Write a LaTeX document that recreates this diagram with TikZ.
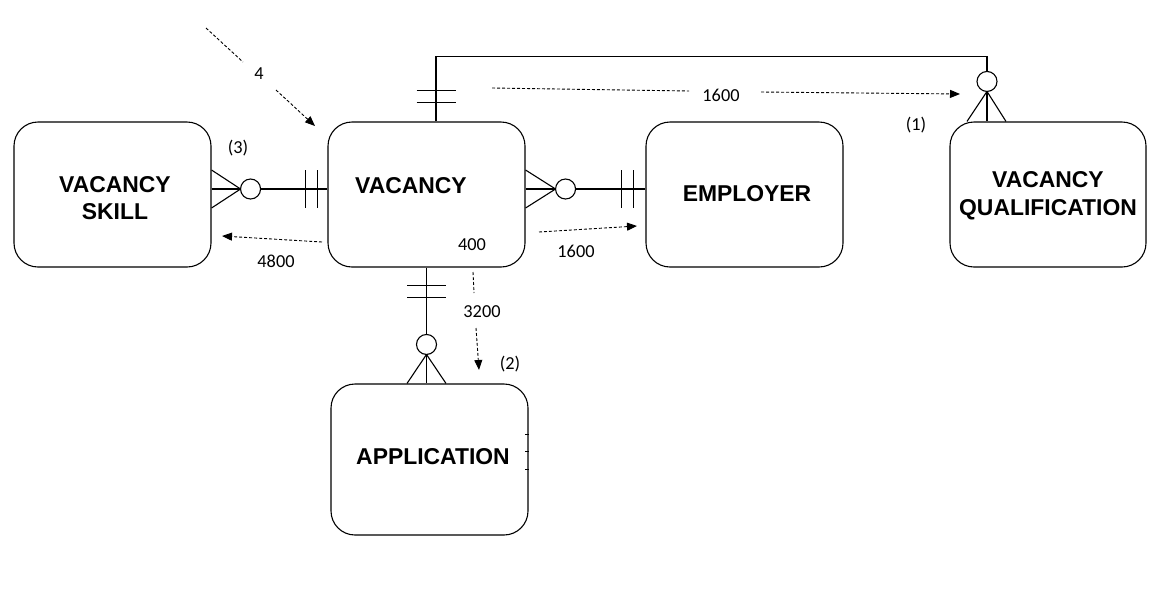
\documentclass[tikz,border=0pt]{standalone}
\usepackage{fontspec}
\setmainfont{Liberation Sans}
\newfontfamily\numfont{Carlito}
\usetikzlibrary{calc,arrows.meta}
\begin{document}
\begin{tikzpicture}[x=1pt,y=-1pt,
  entity/.style={draw, line width=1.1pt, rounded corners=24pt, minimum width=197pt, minimum height=145pt, inner sep=0pt},
  lbl/.style={font=\fontsize{22.9}{27.5}\selectfont\bfseries, align=center, inner sep=0pt},
  num/.style={font=\numfont\fontsize{18.3}{20}\selectfont, inner sep=0pt},
  rel/.style={line width=1.1pt},
  circ/.style={line width=1.1pt, fill=white},
  flowseg/.style={dash pattern=on 3pt off 2pt, line width=0.9pt},
  flow/.style={flowseg, -{Triangle[length=10pt,width=8pt]}}
]
\useasboundingbox (0,0) rectangle (1172,590);

% entities
\node[entity] (skill) at (112.5,194.5) {};
\node[entity] (vac)   at (426.5,194.5) {};
\node[entity] (emp)   at (744.5,194.5) {};
\node[entity, minimum width=196pt] (qual) at (1048,194.5) {};
\node[entity, minimum height=151pt] (app) at (429.5,459.5) {};

\node[lbl] (skillT) at (115,198) {VACANCY\\SKILL};
\node[lbl] (vacT)   at (411,186) {VACANCY};
\node[lbl] (empT)   at (747,194) {EMPLOYER};
\node[lbl] (qualT)  at (1048,196) {VACANCY\\QUALIFICATION};
\node[lbl] (appT)   at (433,457) {APPLICATION};

% skill -- vacancy
\coordinate (sk) at ($(skill.east)+(0,-5.5)$);
\coordinate (vw) at ($(vac.west)+(0,-5.5)$);
\draw[rel] (sk) -- (vw);
\draw[rel] ($(sk)+(0,-19)$) -- ($(sk)+(29,0)$) -- ($(sk)+(0,19)$);
\draw[circ] ($(sk)+(39,0)$) circle (10pt);
\draw[rel] ($(vw)+(-22,-19)$) -- ($(vw)+(-22,19)$);
\draw[rel] ($(vw)+(-10,-19)$) -- ($(vw)+(-10,19)$);

% vacancy -- employer
\coordinate (ve) at ($(vac.east)+(0,-5.5)$);
\coordinate (ew) at ($(emp.west)+(0,-5.5)$);
\draw[rel] (ve) -- (ew);
\draw[rel] ($(ve)+(0,-19)$) -- ($(ve)+(30,0)$) -- ($(ve)+(0,19)$);
\draw[circ] ($(ve)+(40,0)$) circle (10pt);
\draw[rel] ($(ew)+(-24,-19)$) -- ($(ew)+(-24,19)$);
\draw[rel] ($(ew)+(-12,-19)$) -- ($(ew)+(-12,19)$);

% vacancy -- application
\coordinate (vs) at (vac.south);
\coordinate (an) at (vac.south |- app.north);
\draw[rel] (vs) -- (an);
\draw[rel] ($(vs)+(-19.5,18)$) -- ($(vs)+(19.5,18)$);
\draw[rel] ($(vs)+(-19.5,30)$) -- ($(vs)+(19.5,30)$);
\draw[rel] ($(an)+(-19.5,0)$) -- ($(an)+(0,-29)$) -- ($(an)+(19.5,0)$);
\draw[circ] ($(an)+(0,-39)$) circle (10pt);

% vacancy -- qualification
\coordinate (vn) at ($(vac.north)+(9.5,0)$);
\coordinate (qn) at ($(qual.north)+(-61,0)$);
\draw[rel] (vn) -- ++(0,-65) -| (qn);
\draw[rel] ($(vn)+(-19.5,-31)$) -- ($(vn)+(19.5,-31)$);
\draw[rel] ($(vn)+(-19.5,-19)$) -- ($(vn)+(19.5,-19)$);
\draw[rel] ($(qn)+(-20,0)$) -- ($(qn)+(0,-30)$) -- ($(qn)+(19,0)$);
\draw[circ] ($(qn)+(0,-40)$) circle (10pt);

% small ticks on application right side
\foreach \yy in {434,451,469}{\draw[line width=0.6pt] (525,\yy) -- (529,\yy);}

% annotations
\node[num] (n4)    at (259,74)  {4};
\node[num] (n1600a) at (721,95) {1600};
\node[num] (p1)    at (916,125) {(1)};
\node[num] (p3)    at (238,148) {(3)};
\node[num] (n4800) at (276,261) {4800};
\node[num] (n400)  at (472,245) {400};
\node[num] (n1600b) at (576,251) {1600};
\node[num] (n3200) at (482,312) {3200};
\node[num] (p2)    at (510,364) {(2)};

\coordinate (a4s) at (206,28);  \coordinate (a4m) at (243,62);
\coordinate (a4n) at (276,90);  \coordinate (a4e) at (315,126);
\draw[flowseg] (a4s) -- (a4m);
\draw[flow] (a4n) -- (a4e);

\coordinate (b1) at (492,88);  \coordinate (b2) at (689,91);
\coordinate (b3) at (761,92);  \coordinate (b4) at (960,94);
\draw[flowseg] (b1) -- (b2);
\draw[flow] (b3) -- (b4);

\coordinate (c1) at (322,242); \coordinate (c2) at (222,236);
\draw[flow] (c1) -- (c2);

\coordinate (d1) at (539,232); \coordinate (d2) at (637,226);
\draw[flow] (d1) -- (d2);

\coordinate (e1) at (473,272); \coordinate (e2) at (474,293);
\coordinate (e3) at (476,328); \coordinate (e4) at (479,370);
\draw[flowseg] (e1) -- (e2);
\draw[flow] (e3) -- (e4);
\end{tikzpicture}
\end{document}
